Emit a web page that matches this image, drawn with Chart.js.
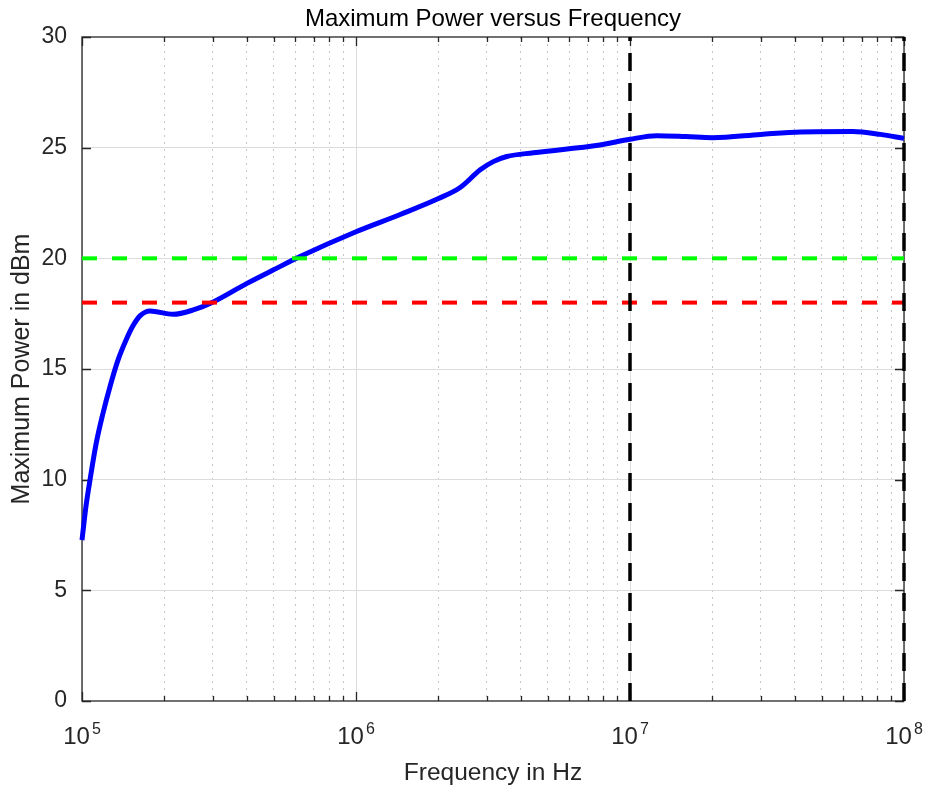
<!DOCTYPE html>
<html><head><meta charset="utf-8">
<script src="https://cdn.jsdelivr.net/npm/chart.js@4.4.1/dist/chart.umd.min.js"></script>
<style>html,body{margin:0;padding:0;background:#fff}#wrap{width:926px;height:792px;position:relative}</style>
</head><body><div id="wrap"><canvas id="c"></canvas></div>
<script>
// ---- data ----
const freqHz = [1e5, 1.034e5, 1.07e5, 1.125e5, 1.193e5, 1.265e5, 1.353e5, 1.447e5, 1.535e5, 1.628e5, 1.771e5, 2.15e5, 2.55e5, 3.0e5, 4.0e5, 5.0e5, 6.25e5, 1e6, 1.45e6, 2e6, 2.4e6, 2.84e6, 3.17e6, 3.55e6, 4.44e6, 7.76e6, 1e7, 1.25e7, 1.6e7, 2e7, 3e7, 4.2e7, 6.5e7, 8.2e7, 1e8];
const powerDbm = [7.27, 8.8, 10.0, 11.6, 13.0, 14.2, 15.4, 16.3, 16.95, 17.4, 17.62, 17.47, 17.67, 18.02, 18.87, 19.48, 20.08, 21.2, 21.98, 22.7, 23.2, 24.0, 24.37, 24.6, 24.77, 25.12, 25.38, 25.54, 25.5, 25.45, 25.6, 25.71, 25.73, 25.6, 25.42];
const upperLimitDbm = 20;
const lowerLimitDbm = 18;
const markerFreqsHz = [1e7, 1e8];
const xRange = [1e5, 1e8];
const yRange = [0, 30];
const xDecades = [1e5, 1e6, 1e7, 1e8];
const xDecadeBase = ['10', '10', '10', '10'];
const xDecadeExp = ['5', '6', '7', '8'];
const xMinorMultipliers = [2, 3, 4, 5, 6, 7, 8, 9];
const yTicks = [0, 5, 10, 15, 20, 25, 30];
const chartTitle = 'Maximum Power versus Frequency';
const xTitle = 'Frequency in Hz';
const yTitle = 'Maximum Power in dBm';

const FONT = '"Liberation Sans", Arial, sans-serif';
const AXC = '#262626';

const xTickValues = [];
xDecades.forEach((d, i) => {
  xTickValues.push(d);
  if (i < xDecades.length - 1) xMinorMultipliers.forEach(m => xTickValues.push(d * m));
});
const isDecade = v => Math.abs(Math.log10(v) - Math.round(Math.log10(v))) < 1e-9;

const pts = (xs, ys) => xs.map((x, i) => ({x, y: ys[i]}));

const framePlugin = {
  id: 'frame',
  beforeDatasetsDraw(chart) {
    const {ctx, chartArea: a, scales: {x, y}} = chart;
    ctx.save();
    ctx.strokeStyle = AXC;
    ctx.lineWidth = 1.3;
    ctx.beginPath();
    xTickValues.forEach(v => {
      const px = Math.round(x.getPixelForValue(v)) + 0.5;
      const len = isDecade(v) ? 9 : 5;
      ctx.moveTo(px, a.bottom); ctx.lineTo(px, a.bottom - len);
      ctx.moveTo(px, a.top); ctx.lineTo(px, a.top + len);
    });
    yTicks.forEach(v => {
      const py = Math.round(y.getPixelForValue(v)) + 0.5;
      ctx.moveTo(a.left, py); ctx.lineTo(a.left + 9, py);
      ctx.moveTo(a.right, py); ctx.lineTo(a.right - 9, py);
    });
    ctx.stroke();
    ctx.strokeRect(a.left, a.top, a.right - a.left, a.bottom - a.top);
    ctx.restore();
  },
  afterDraw(chart) {
    const {ctx, scales: {x}} = chart;
    ctx.save();
    ctx.fillStyle = AXC;
    ctx.textBaseline = 'alphabetic';
    ctx.textAlign = 'left';
    xDecades.forEach((v, i) => {
      const px = x.getPixelForValue(v);
      ctx.font = '24px ' + FONT;
      const bw = ctx.measureText(xDecadeBase[i]).width;
      ctx.font = '16px ' + FONT;
      const ew = ctx.measureText(xDecadeExp[i]).width;
      const gap = 2;
      const start = px - (bw + ew + gap) / 2;
      ctx.font = '24px ' + FONT;
      ctx.fillText(xDecadeBase[i], start, x.top + 43);
      ctx.font = '16px ' + FONT;
      ctx.fillText(xDecadeExp[i], start + bw + gap, x.top + 32.5);
    });
    ctx.restore();
  }
};

new Chart(document.getElementById('c'), {
  type: 'line',
  data: {
    datasets: [
      {label: 'marker 10^7', data: pts([markerFreqsHz[0], markerFreqsHz[0]], [yRange[0], yRange[1]]), borderColor: '#000', borderWidth: 3.5, borderDash: [18, 12], pointRadius: 0, clip: false, order: 1},
      {label: 'marker 10^8', data: pts([markerFreqsHz[1], markerFreqsHz[1]], [yRange[0], yRange[1]]), borderColor: '#000', borderWidth: 3.5, borderDash: [18, 12], pointRadius: 0, clip: false, order: 1},
      {label: 'upper limit', data: pts(xRange, [upperLimitDbm, upperLimitDbm]), borderColor: '#00ff00', borderWidth: 4, borderDash: [15, 15], pointRadius: 0, clip: false, order: 1},
      {label: 'lower limit', data: pts(xRange, [lowerLimitDbm, lowerLimitDbm]), borderColor: '#ff0000', borderWidth: 4, borderDash: [15, 15], pointRadius: 0, clip: false, order: 1},
      {label: 'Maximum Power', data: pts(freqHz, powerDbm), borderColor: '#0000ff', borderWidth: 5, pointRadius: 0, cubicInterpolationMode: 'monotone', clip: false, order: 2}
    ]
  },
  options: {
    responsive: true,
    maintainAspectRatio: false,
    animation: false,
    events: [],
    layout: {padding: {left: 0, right: 22, top: 0, bottom: 0}},
    plugins: {
      legend: {display: false},
      tooltip: {enabled: false},
      title: {display: true, text: chartTitle, fullSize: false, color: '#000',
        font: {family: FONT, size: 24, weight: 'normal'}, padding: {top: 5.1, bottom: 3.1}}
    },
    scales: {
      x: {
        type: 'logarithmic', position: 'bottom', min: xRange[0], max: xRange[1],
        afterBuildTicks: s => { s.ticks = xTickValues.map(v => ({value: v, major: isDecade(v)})); },
        afterFit: s => { s.height = 91; },
        ticks: {display: false},
        grid: {drawTicks: false, lineWidth: 1,
          color: c => (c.tick && isDecade(c.tick.value)) ? '#dcdcdc' : '#c4c4c4'},
        border: {display: false, dash: c => (c.tick && isDecade(c.tick.value)) ? [] : [2, 5]},
        title: {display: true, text: xTitle, color: AXC, font: {family: FONT, size: 24.5}, padding: {top: 0, bottom: 4.3}}
      },
      y: {
        type: 'linear', position: 'left', min: yRange[0], max: yRange[1],
        afterBuildTicks: s => { s.ticks = yTicks.map(v => ({value: v})); },
        afterFit: s => { s.width = 82; },
        ticks: {padding: 15, color: AXC, font: {family: FONT, size: 23}},
        grid: {drawTicks: false, lineWidth: 1,
          color: c => (c.tick && (c.tick.value === yRange[0] || c.tick.value === yRange[1])) ? 'rgba(0,0,0,0)' : '#dcdcdc'},
        border: {display: false},
        title: {display: true, text: yTitle, color: AXC, font: {family: FONT, size: 25}, padding: {top: 7, bottom: 0}}
      }
    }
  },
  plugins: [framePlugin]
});
</script>
</body></html>
